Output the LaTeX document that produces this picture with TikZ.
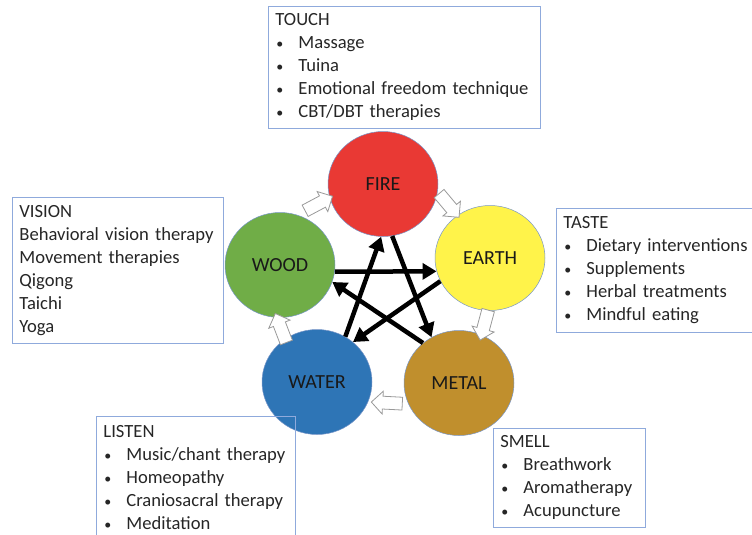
\documentclass[tikz,border=0pt]{standalone}
\usepackage{fontspec}
\setmainfont{Carlito}
\definecolor{firered}{RGB}{233, 57, 52}
\definecolor{earthyellow}{RGB}{255, 243, 74}
\definecolor{woodgreen}{RGB}{112, 173, 71}
\definecolor{waterblue}{RGB}{46, 117, 182}
\definecolor{metalgold}{RGB}{192, 143, 45}
\definecolor{boxblue}{RGB}{143, 170, 220}
\definecolor{rimblue}{RGB}{120, 150, 200}
\definecolor{inktext}{RGB}{38, 38, 38}
\usepackage{tikz}
\usetikzlibrary{shapes.geometric, shapes.arrows, arrows.meta, positioning, calc}
\newcommand{\bitem}[1]{\mbox{\makebox[23pt][l]{\hspace{1pt}{\fontsize{14}{14}\selectfont\textbullet}}#1}}

\begin{document}
\begin{tikzpicture}[x=1pt, y=-1pt,
    element/.style={ellipse, draw=rimblue, line width=0.5pt, minimum width=110pt,
      minimum height=105pt, inner sep=0pt, font=\fontsize{20}{24}\selectfont, text=black!90},
    infobox/.style={draw=boxblue, line width=0.9pt, anchor=north west, align=left,
      inner xsep=7pt, inner ysep=0pt, font=\fontsize{18.6}{23}\selectfont, text=inktext},
    cyclearrow/.style={single arrow, draw=gray!80, fill=white, line width=0.8pt,
      minimum height=31pt, single arrow head extend=5pt, inner xsep=0pt, inner ysep=6pt},
    ctrl/.style={line width=4.5pt, -{Triangle[length=14pt, width=16pt]}}]
  \clip (0, 0) rectangle (752, 535);

  % Five elements
  \node[element, fill=firered] (fire) at (383, 184) {FIRE};
  \node[element, fill=earthyellow] (earth) at (490, 258) {EARTH};
  \node[element, fill=metalgold] (metal) at (459, 383) {METAL};
  \node[element, fill=waterblue] (water) at (317, 382) {WATER};
  \node[element, fill=woodgreen] (wood) at (280, 265) {WOOD};

  % Generating cycle (outline arrows)
  \node[cyclearrow, rotate=28] (woodfire) at (316, 205) {};
  \node[cyclearrow, rotate=-50] (fireearth) at (447, 203) {};
  \node[cyclearrow, rotate=-105] (earthmetal) at (485, 322) {};
  \node[cyclearrow, rotate=177] (metalwater) at (390, 403) {};
  \node[cyclearrow, rotate=111] (waterwood) at (282, 331) {};

  % Controlling cycle (star)
  \draw[ctrl] (wood.-7) -- (earth.194);
  \draw[ctrl] (earth.205) -- (water.48);
  \draw[ctrl] (water.58) -- (fire.268);
  \draw[ctrl] (fire.280) -- (metal.121);
  \draw[ctrl] (metal.132) -- (wood.-18);

  % Senses and therapies
  \node[infobox, text width=258pt, minimum height=122pt] (touch) at (268, 6) {
    TOUCH\\ \bitem{Massage}\\ \bitem{Tuina}\\
    \bitem{Emotional freedom technique}\\ \bitem{CBT/DBT therapies}};
  \node[infobox, text width=197pt, minimum height=146pt] (vision) at (12, 197) {
    VISION\\ \mbox{Behavioral vision therapy}\\ \mbox{Movement therapies}\\
    Qigong\\ Taichi\\ Yoga};
  \node[infobox, text width=206pt, minimum height=124pt] (taste) at (556, 208) {
    TASTE\\ \bitem{Dietary interventions}\\ \bitem{Supplements}\\
    \bitem{Herbal treatments}\\ \bitem{Mindful eating}};
  \node[infobox, text width=185pt, minimum height=123pt] (listen) at (96, 416) {
    LISTEN\\ \bitem{Music/chant therapy}\\ \bitem{Homeopathy}\\
    \bitem{Craniosacral therapy}\\ \bitem{Meditation}};
  \node[infobox, text width=138pt, minimum height=99pt] (smell) at (493, 428) {
    SMELL\\ \bitem{Breathwork}\\ \bitem{Aromatherapy}\\ \bitem{Acupuncture}};
\end{tikzpicture}
\end{document}
